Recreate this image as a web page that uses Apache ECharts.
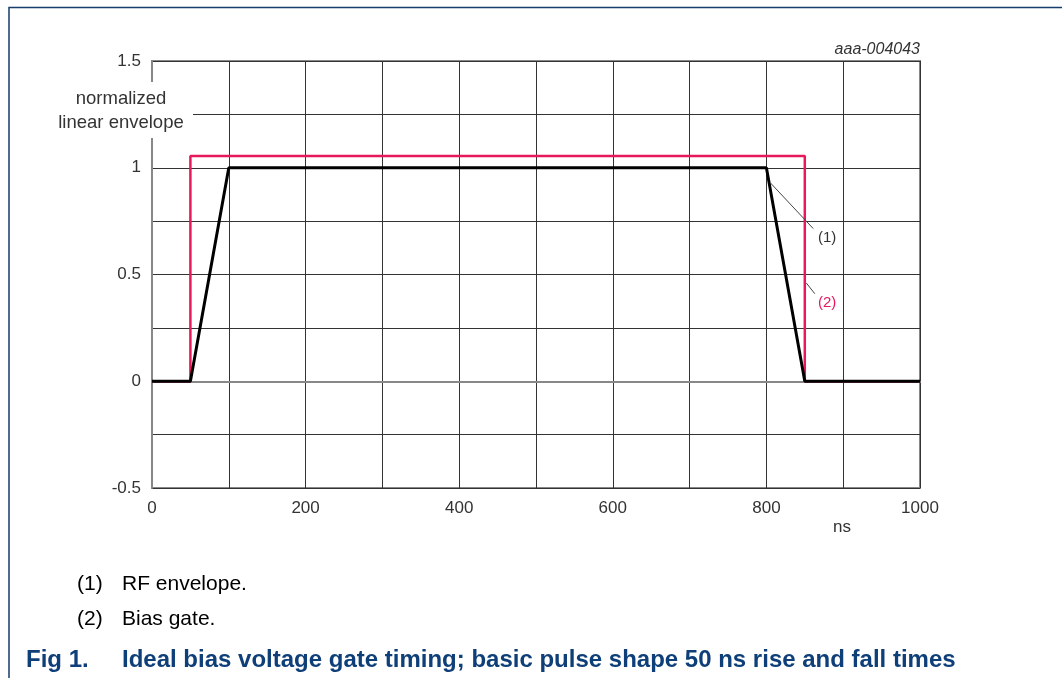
<!DOCTYPE html>
<html><head><meta charset="utf-8">
<script src="https://cdn.jsdelivr.net/npm/echarts@6/dist/echarts.min.js"></script>
<style>html,body{margin:0;padding:0;background:#fff}#c{width:1062px;height:678px}</style>
</head><body><div id="c"></div>
<script>
// data (ns, normalized)
const rfEnvelope = [[0,0],[50,0],[100,1],[800,1],[850,0],[1000,0]];
const biasGate = [[0,0],[50,0],[50,1.055],[850,1.055],[850,0],[1000,0]];
const xTickLabels = [0,200,400,600,800,1000];
const yTickLabels = [-0.5,0,0.5,1,1.5];
const leader1 = [[805,0.93],[861,0.715]];
const label1 = [879,0.67];
const leader2 = [[852,0.46],[863,0.41]];
const label2 = [879,0.365];

const chart = echarts.init(document.getElementById('c'));
const F = 'Liberation Sans, Arial, sans-serif';
chart.setOption({
  animation:false,
  grid:{left:152,right:142,top:61,bottom:190,show:true,borderColor:'#888',borderWidth:2},
  xAxis:{type:'value',min:0,max:1000,interval:100,
    axisLine:{show:true,lineStyle:{color:'#888',width:2}},
    axisTick:{show:false},
    splitLine:{show:true,lineStyle:{color:'#333',width:1}},
    axisLabel:{color:'#333',fontSize:17,fontFamily:F,margin:12,
      formatter:v=>xTickLabels.includes(v)?String(v):''}},
  yAxis:{type:'value',min:-0.5,max:1.5,interval:0.25,
    axisLine:{show:true,lineStyle:{color:'#888',width:2}},
    axisTick:{show:false},
    splitLine:{show:true,lineStyle:{color:'#333',width:1}},
    axisLabel:{color:'#333',fontSize:17,fontFamily:F,margin:11,padding:[4,0,0,0],
      formatter:v=>yTickLabels.some(t=>Math.abs(t-v)<1e-9)?String(v):''}},
  series:[
    {type:'line',name:'Bias gate',data:biasGate,showSymbol:false,z:3,
      lineStyle:{color:'#e8195b',width:2.5},
      markLine:{silent:true,symbol:'none',label:{show:false},
        lineStyle:{color:'#444',width:1,type:'solid'},data:[[{coord:leader2[0]},{coord:leader2[1]}]]},
      markPoint:{symbolSize:0,data:[{coord:label2,label:{show:true,formatter:'(2)',color:'#e8195b',fontSize:15,fontFamily:F}}]}},
    {type:'line',name:'RF envelope',data:rfEnvelope,showSymbol:false,z:4,
      lineStyle:{color:'#000',width:3},
      markLine:{silent:true,symbol:'none',label:{show:false},
        lineStyle:{color:'#444',width:1,type:'solid'},data:[[{coord:leader1[0]},{coord:leader1[1]}]]},
      markPoint:{symbolSize:0,data:[{coord:label1,label:{show:true,formatter:'(1)',color:'#333',fontSize:15,fontFamily:F}}]}}
  ],
  graphic:[
    {type:'polyline',shape:{points:[[9,678],[9,7.5],[1062,7.5]]},style:{stroke:'#163d6b',lineWidth:1.5,fill:null}},
    {type:'rect',z:100,shape:{x:54,y:82,width:139,height:56},style:{fill:'#fff'}},
    {type:'text',z:101,x:121,y:99,style:{text:'normalized',fill:'#333',font:'18.5px '+F,align:'center',verticalAlign:'middle'}},
    {type:'text',z:101,x:121,y:123,style:{text:'linear envelope',fill:'#333',font:'18.5px '+F,align:'center',verticalAlign:'middle'}},
    {type:'text',x:920,y:50,style:{text:'aaa-004043',fill:'#333',font:'italic 16px '+F,align:'right',verticalAlign:'middle'}},
    {type:'text',x:833,y:527,style:{text:'ns',fill:'#333',font:'17px '+F,verticalAlign:'middle'}},
    {type:'text',x:77,y:584,style:{text:'(1)',fill:'#000',font:'21px '+F,verticalAlign:'middle'}},
    {type:'text',x:122,y:584,style:{text:'RF envelope.',fill:'#000',font:'21px '+F,verticalAlign:'middle'}},
    {type:'text',x:77,y:619,style:{text:'(2)',fill:'#000',font:'21px '+F,verticalAlign:'middle'}},
    {type:'text',x:122,y:619,style:{text:'Bias gate.',fill:'#000',font:'21px '+F,verticalAlign:'middle'}},
    {type:'text',x:26,y:660,style:{text:'Fig 1.',fill:'#0f3f78',font:'bold 24px '+F,verticalAlign:'middle'}},
    {type:'text',x:122,y:660,style:{text:'Ideal bias voltage gate timing; basic pulse shape 50 ns rise and fall times',fill:'#0f3f78',font:'bold 24px '+F,verticalAlign:'middle'}}
  ]
});
</script></body></html>
